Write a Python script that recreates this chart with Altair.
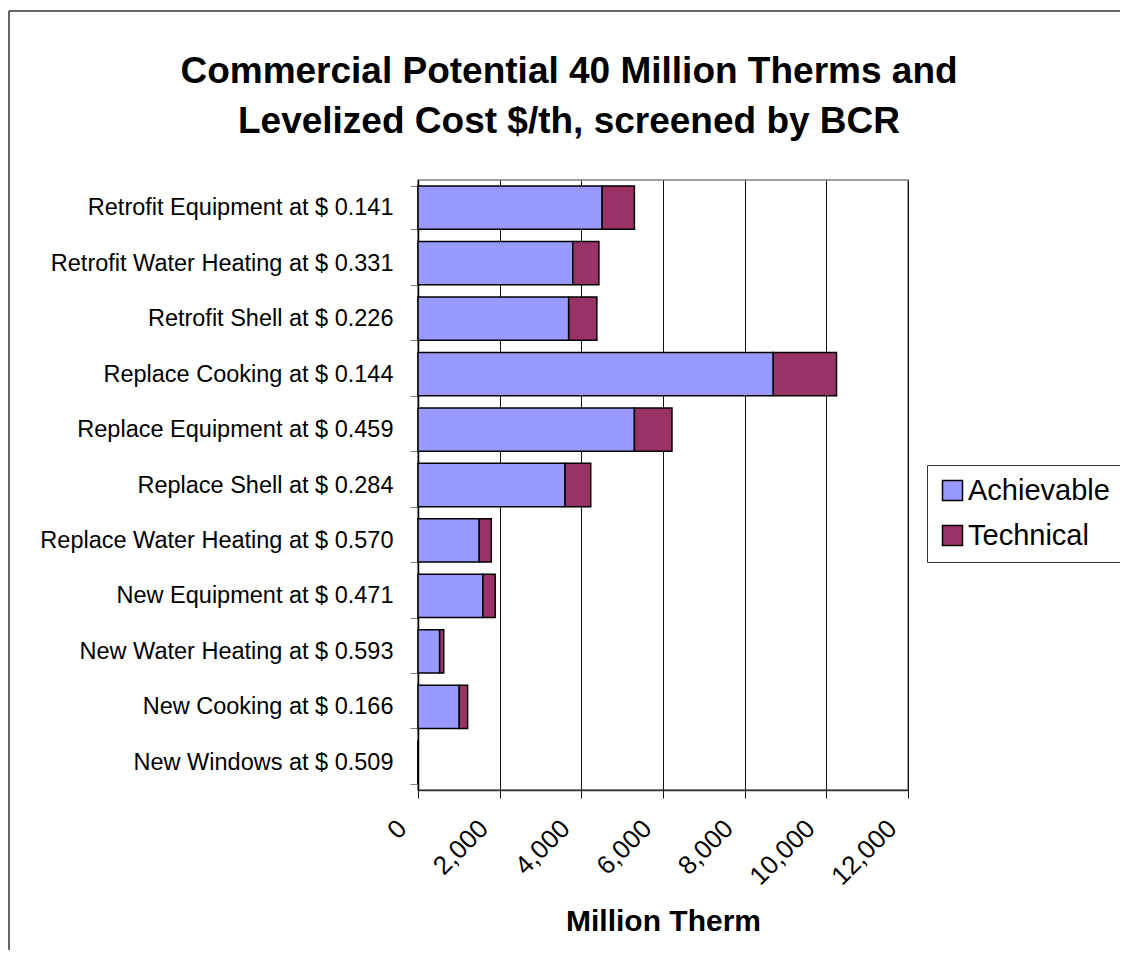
import altair as alt
import pandas as pd

categories = [
    "Retrofit Equipment at $ 0.141",
    "Retrofit Water Heating at $ 0.331",
    "Retrofit Shell at $ 0.226",
    "Replace Cooking at $ 0.144",
    "Replace Equipment at $ 0.459",
    "Replace Shell at $ 0.284",
    "Replace Water Heating at $ 0.570",
    "New Equipment at $ 0.471",
    "New Water Heating at $ 0.593",
    "New Cooking at $ 0.166",
    "New Windows at $ 0.509",
]
achievable = [4510, 3790, 3690, 8700, 5300, 3600, 1500, 1590, 530, 1010, 0]
technical = [790, 640, 690, 1550, 920, 630, 295, 300, 100, 205, 0]
series = ["Achievable", "Technical"]
colors = ["#9999FF", "#993366"]
x_ticks = [0, 2000, 4000, 6000, 8000, 10000, 12000]
title_lines = ["Commercial Potential 40 Million Therms and",
               "Levelized Cost $/th, screened by BCR"]

rows = []
for c, a, t in zip(categories, achievable, technical):
    rows.append({"category": c, "series": series[0], "value": a, "order": 0})
    rows.append({"category": c, "series": series[1], "value": t, "order": 1})
df = pd.DataFrame(rows)

W, H = 490, 610
FONT = "Liberation Sans"

bars = alt.Chart(df).mark_bar(stroke="black", strokeWidth=1.5).encode(
    x=alt.X(
        "value:Q",
        stack="zero",
        scale=alt.Scale(domain=[0, 12000], nice=False),
        axis=alt.Axis(
            values=x_ticks,
            format=",d",
            title="Million Therm",
            grid=True,
            gridColor="#111111",
            gridWidth=1,
            ticks=True,
            tickSize=8,
            tickColor="#111111",
            domainColor="#333333",
            domainWidth=1.5,
            labelAngle=315,
            labelAlign="right",
            labelBaseline="middle",
            labelOffset=-16,
            labelPadding=26,
            labelFontSize=26,
            labelFont=FONT,
            labelColor="black",
            labelOverlap=False,
            titleFont=FONT,
            titleFontSize=30,
            titleFontWeight="bold",
            titleColor="black",
            titleY=140,
            titleBaseline="alphabetic",
        ),
    ),
    y=alt.Y(
        "category:N",
        sort=categories,
        scale=alt.Scale(paddingInner=0.22, paddingOuter=0.11),
        axis=alt.Axis(
            title=None,
            grid=False,
            ticks=True,
            tickBand="extent",
            tickSize=8,
            tickColor="#808080",
            domainColor="black",
            domainWidth=1.5,
            labelPadding=17,
            labelFontSize=23.5,
            labelFont=FONT,
            labelColor="black",
            labelLimit=600,
        ),
    ),
    color=alt.Color(
        "series:N",
        scale=alt.Scale(domain=series, range=colors),
        legend=alt.Legend(
            title=None,
            orient="none",
            legendX=509,
            legendY=285,
            direction="vertical",
            strokeColor="#333333",
            fillColor="white",
            padding=11,
            labelFontSize=29,
            labelFont=FONT,
            labelColor="black",
            labelOffset=1,
            symbolType="square",
            symbolSize=400,
            symbolStrokeColor="black",
            symbolStrokeWidth=1.5,
            rowPadding=15,
        ),
    ),
    order=alt.Order("order:Q"),
)

frame_data = alt.Data(values=[{"k": 1}])
frame_left = alt.Chart(frame_data).mark_rule(color="#333333", strokeWidth=1.5).encode(
    x=alt.value(-409), y=alt.value(-169), y2=alt.value(H + 160)
)
frame_top = alt.Chart(frame_data).mark_rule(color="#333333", strokeWidth=1.5).encode(
    x=alt.value(-409), x2=alt.value(702), y=alt.value(-169)
)

chart = alt.layer(frame_left, frame_top, bars).properties(
    width=W,
    height=H,
    autosize=alt.AutoSizeParams(type="none"),
    padding={"left": 410, "top": 172, "right": 212, "bottom": 160},
    title=alt.TitleParams(
        text=title_lines,
        font=FONT,
        fontSize=37,
        fontWeight="bold",
        color="black",
        anchor="middle",
        lineHeight=50,
        offset=0,
        dx=-94,
        dy=131,
    ),
).configure_view(stroke="#808080", strokeWidth=1.5)

chart.save("out.html", embed_options={"renderer": "svg", "actions": False})
